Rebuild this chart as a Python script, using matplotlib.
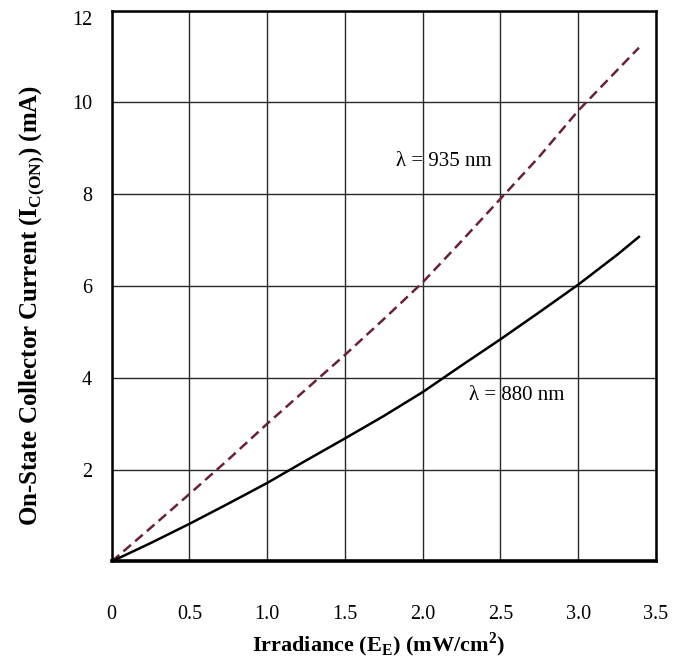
import numpy as np
import matplotlib
matplotlib.use("Agg")
import matplotlib.pyplot as plt

plt.rcParams['font.family'] = ['Liberation Serif', 'DejaVu Serif']
plt.rcParams['mathtext.fontset'] = 'custom'
plt.rcParams['mathtext.rm'] = 'Liberation Serif'
plt.rcParams['mathtext.bf'] = 'Liberation Serif:bold'

# irradiance (mW/cm2)
irr = [0, 0.25, 0.5, 0.75, 1.0, 1.25, 1.5, 1.75, 2.0, 2.25, 2.5, 2.75, 3.0, 3.25, 3.39]
# collector current (mA)
ic_935 = [0, 0.73, 1.47, 2.22, 3.0, 3.75, 4.5, 5.28, 6.08, 6.98, 7.9, 8.82, 9.82, 10.7, 11.19]
ic_880 = [0, 0.4, 0.82, 1.26, 1.71, 2.2, 2.68, 3.17, 3.69, 4.27, 4.84, 5.43, 6.03, 6.68, 7.07]

xticks = [0, 0.5, 1.0, 1.5, 2.0, 2.5, 3.0, 3.5]
xticklabels = ['0', '0.5', '1.0', '1.5', '2.0', '2.5', '3.0', '3.5']
yticks = [2, 4, 6, 8, 10, 12]

fig = plt.figure(figsize=(6.83, 6.67), dpi=100)
ax = fig.add_axes([0.1635, 0.1582, 0.797, 0.826])

ax.plot(irr, ic_935, color='#6b1f3f', lw=1.8, dashes=(4, 2.2))
ax.plot(irr, ic_880, color='black', lw=1.8)

ax.set_xlim(0, 3.5)
ax.set_ylim(0, 12)
ax.set_xticks(xticks)
ax.set_xticklabels(xticklabels)
ax.set_yticks(yticks)
ax.tick_params(axis='both', length=0, labelsize=14.5)
ax.tick_params(axis='x', pad=31)
ax.tick_params(axis='y', pad=14)
# top label sits a bit below the frame
ax.get_yticklabels()[-1].set_va('top')
ax.grid(True, color='#2a2a2a', lw=1.0)
ax.set_axisbelow(True)
for side in ['top', 'right', 'left']:
    ax.spines[side].set_linewidth(1.8)
ax.spines['bottom'].set_linewidth(2.6)

ax.text(1.83, 8.71, 'λ = 935 nm', fontsize=15, va='center', ha='left')
ax.text(2.30, 3.61, 'λ = 880 nm', fontsize=15, va='center', ha='left')

ax.set_xlabel(r'Irradiance (E$_{\mathbf{E}}$) (mW/cm$^{\mathbf{2}}$)',
              fontsize=16, fontweight='bold', labelpad=5)
ax.xaxis.label.set_x(0.491)
ax.set_ylabel(r'On-State Collector Current (I$_{\mathbf{C(ON)}}$) (mA)',
              fontsize=18, fontweight='bold')
ax.yaxis.set_label_coords(-0.118, 0.464)

fig.savefig('out.png', dpi=100)
